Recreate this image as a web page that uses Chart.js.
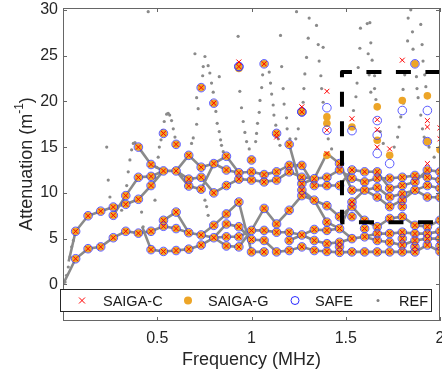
<!DOCTYPE html>
<html>
<head>
<meta charset="utf-8">
<script src="https://cdn.jsdelivr.net/npm/chart.js@4.4.1/dist/chart.umd.min.js"></script>
<style>
  html, body { margin: 0; padding: 0; background: #fff; }
  #wrap { width: 442px; height: 379px; }
</style>
</head>
<body>
<div id="wrap"><canvas id="chart" width="442" height="379"></canvas></div>
<script>
// frequencies (MHz) where the modal solvers were evaluated
const freqs = [0.067, 0.133, 0.2, 0.267, 0.333, 0.4, 0.467, 0.533, 0.6, 0.667,
  0.733, 0.8, 0.867, 0.933, 1.0, 1.067, 1.133, 1.2, 1.267, 1.333,
  1.4, 1.467, 1.533, 1.6, 1.667, 1.733, 1.8, 1.867, 1.933, 2.0];

// attenuation values (1/m) on which SAIGA-C, SAIGA-G and SAFE agree, one list per frequency
const commonAtt = [
  [5.8, 2.8],
  [7.5, 3.9],
  [8.0, 4.1],
  [8.45, 7.55, 5.1],
  [9.7, 8.75, 5.8],
  [15.0, 11.7, 9.3, 5.6],
  [13.1, 11.8, 10.8, 5.8, 3.8],
  [16.5, 12.4, 7.0, 6.35, 3.6],
  [15.3, 12.4, 7.9, 6.1, 3.7],
  [14.1, 11.5, 10.75, 5.65, 3.85],
  [21.5, 12.8, 11.7, 10.4, 5.4, 4.3],
  [19.8, 13.2, 10.0, 6.45, 5.1],
  [14.0, 12.5, 10.8, 7.7, 6.6, 5.2, 4.2],
  [23.8, 12.2, 11.5, 9.0, 6.3, 5.2, 4.1],
  [13.6, 12.3, 11.4, 5.9, 4.9, 3.55],
  [24.1, 12.0, 11.2, 8.3, 5.9, 4.8, 3.55],
  [16.5, 12.3, 11.4, 6.6, 5.7, 3.55],
  [15.3, 13.0, 12.3, 8.1, 5.7, 4.8, 3.7],
  [18.85, 13.0, 11.7, 11.0, 10.3, 9.7, 5.4, 4.1],
  [11.55, 10.8, 9.2, 6.0, 4.8, 3.7],
  [11.7, 10.8, 8.6, 6.8, 5.9, 4.45, 3.6],
  [13.2, 12.5, 10.8, 7.4, 6.1, 4.6, 4.1, 3.5],
  [12.5, 11.6, 10.3, 9.0, 8.5, 7.4, 5.0, 3.55],
  [12.3, 11.2, 10.3, 7.0, 6.1, 5.2, 3.55],
  [12.3, 11.6, 10.6, 9.55, 6.3, 5.55, 4.8, 3.55],
  [11.6, 10.5, 9.55, 8.5, 7.2, 5.55, 4.6, 3.55],
  [11.7, 10.8, 9.9, 9.2, 8.5, 7.4, 5.7, 5.0, 4.3, 3.55],
  [11.9, 11.2, 10.3, 6.45, 5.55, 4.8, 4.1, 3.55],
  [12.5, 11.7, 10.8, 9.55, 6.3, 5.55, 5.0, 4.3],
  [12.3, 11.4, 10.5, 9.5, 7.0, 5.8, 5.0, 4.2, 3.6]
];

// points where the three solvers give different answers [freq, att]
const saigaCOnly = [[0.933, 24.3], [1.133, 16.1], [1.267, 19.4], [1.4, 21.1], [1.4, 16.85], [1.4, 14.3],
  [1.533, 18.1], [1.667, 18.0], [1.667, 16.9], [1.667, 15.0], [1.733, 14.8], [1.8, 24.5],
  [1.933, 17.9], [1.933, 17.2], [1.933, 13.2], [2.0, 17.1], [2.0, 15.9]];
const saigaGOnly = [[0.933, 23.6], [1.267, 18.85], [1.4, 18.3], [1.4, 17.6], [1.4, 14.1], [1.533, 17.2],
  [1.667, 19.4], [1.667, 15.75], [1.733, 14.1], [1.8, 20.1], [1.867, 24.1], [1.933, 20.6],
  [1.933, 15.6], [2.0, 14.7]];
const safeOnly = [[0.933, 23.8], [1.267, 18.85], [1.4, 19.3], [1.4, 16.85], [1.533, 16.8], [1.667, 17.9],
  [1.667, 16.3], [1.667, 14.3], [1.733, 13.2], [1.8, 19.0], [1.867, 24.1], [1.933, 19.0], [1.933, 15.6]];

// reference solution: dense branches (they read as solid grey lines)
const refTracks = [
  [[0, 0], [0.067, 2.8], [0.133, 3.9], [0.2, 4.1], [0.267, 5.1], [0.333, 5.8], [0.4, 5.6], [0.467, 5.8],
   [0.533, 6.35], [0.6, 6.1], [0.667, 5.65], [0.733, 5.4], [0.8, 5.1], [0.867, 5.2], [0.933, 5.2],
   [1.0, 5.9], [1.067, 5.9], [1.133, 5.7], [1.2, 5.7], [1.267, 5.4], [1.333, 6.0], [1.4, 5.9],
   [1.467, 6.1], [1.533, 5.0], [1.6, 5.2], [1.667, 5.55], [1.733, 5.55], [1.8, 5.7], [1.867, 5.55],
   [1.933, 5.55], [2.0, 5.8]],
  [[0.03, 2.5], [0.067, 5.8], [0.133, 7.5], [0.2, 8.0], [0.267, 8.45], [0.333, 8.75], [0.4, 9.3],
   [0.467, 10.8], [0.533, 12.4], [0.6, 12.4], [0.667, 11.5], [0.733, 11.7], [0.8, 10.0], [0.867, 10.8],
   [0.933, 11.5], [1.0, 11.4], [1.067, 11.2], [1.133, 11.4], [1.2, 12.3], [1.267, 11.7], [1.333, 11.55],
   [1.4, 11.7], [1.467, 12.5], [1.533, 11.6], [1.6, 11.2], [1.667, 11.6], [1.733, 11.6], [1.8, 11.7],
   [1.867, 11.9], [1.933, 11.7], [2.0, 11.4]],
  [[0.267, 7.55], [0.333, 9.7], [0.4, 11.7], [0.467, 11.8], [0.533, 12.4], [0.6, 12.4], [0.667, 10.75],
   [0.733, 10.4], [0.8, 13.2], [0.867, 12.5], [0.933, 12.2], [1.0, 12.3], [1.067, 12.0], [1.133, 12.3],
   [1.2, 13.0], [1.267, 13.0], [1.333, 10.8], [1.4, 10.8], [1.467, 10.8], [1.533, 12.5], [1.6, 12.3],
   [1.667, 12.3], [1.733, 10.5], [1.8, 10.8], [1.867, 11.2], [1.933, 12.5], [2.0, 12.3]],
  [[0.4, 15.0], [0.467, 13.1], [0.533, 12.4], [0.6, 12.4], [0.667, 14.1], [0.733, 12.8], [0.8, 13.2],
   [0.867, 14.0], [0.933, 12.2]],
  [[0.42, 6.3], [0.467, 3.8], [0.533, 3.6], [0.6, 3.7], [0.667, 3.85], [0.733, 4.3], [0.8, 5.1],
   [0.867, 6.6], [0.933, 6.3], [1.0, 4.9], [1.067, 4.8], [1.133, 3.55], [1.2, 3.7], [1.267, 4.1],
   [1.333, 3.7], [1.4, 3.6], [1.467, 3.5], [1.533, 3.55], [1.6, 3.55], [1.667, 3.55], [1.733, 3.55],
   [1.8, 3.55], [1.867, 3.55], [1.933, 4.3], [2.0, 3.6]],
  [[0.533, 7.0], [0.6, 7.9], [0.667, 5.65], [0.733, 5.4], [0.8, 6.45], [0.867, 7.7], [0.933, 9.0],
   [1.0, 3.55], [1.067, 3.55]],
  [[0.8, 5.1], [0.867, 4.2], [0.933, 4.1], [1.0, 5.9], [1.067, 8.3], [1.133, 6.6], [1.2, 8.1],
   [1.267, 9.7], [1.333, 9.2], [1.4, 8.6], [1.467, 7.4], [1.533, 8.5], [1.6, 7.0], [1.667, 6.3],
   [1.733, 7.2], [1.8, 7.4], [1.867, 6.45], [1.933, 6.3], [2.0, 7.0]],
  [[1.2, 4.8], [1.267, 5.4], [1.333, 4.8], [1.4, 4.45], [1.467, 4.6], [1.533, 5.0], [1.6, 5.2],
   [1.667, 4.8], [1.733, 4.6], [1.8, 4.3], [1.867, 4.8], [1.933, 5.0], [2.0, 5.0]],
  [[1.2, 15.3], [1.267, 10.3], [1.333, 9.2], [1.4, 6.8], [1.467, 6.1], [1.533, 9.0], [1.6, 10.3],
   [1.667, 10.6], [1.733, 9.55], [1.8, 9.9], [1.867, 10.3], [1.933, 10.8], [2.0, 10.5]],
  [[1.267, 11.0], [1.333, 11.55], [1.4, 14.3], [1.467, 13.2], [1.533, 10.3], [1.6, 10.3], [1.667, 9.55],
   [1.733, 8.5], [1.8, 9.2], [1.867, 10.3], [1.933, 9.55], [2.0, 9.5]]
];

// reference solution: sparse points on the steep branches
const refDots = [
  [0.011, 0.25], [0.019, 1.0], [0.028, 1.9], [0.037, 3.0], [0.046, 4.1], [0.055, 4.8],
  [0.232, 15.0], [0.240, 11.4], [0.249, 9.55],
  [0.311, 8.1], [0.320, 8.8], [0.338, 10.8], [0.346, 12.3], [0.355, 13.6], [0.364, 14.7], [0.373, 15.4], [0.382, 15.5],
  [0.417, 7.9], [0.425, 6.3],
  [0.452, 29.8],
  [0.488, 9.2], [0.489, 11.7], [0.497, 12.8], [0.505, 13.9], [0.511, 15.0], [0.520, 15.8], [0.528, 16.8], [0.537, 17.8],
  [0.550, 18.6], [0.558, 18.7], [0.566, 18.5], [0.576, 17.9], [0.585, 17.0], [0.594, 16.1],
  [0.682, 15.4], [0.691, 16.0], [0.709, 17.5], [0.717, 19.2], [0.709, 20.4], [0.741, 22.8], [0.744, 23.8],
  [0.700, 25.2], [0.753, 24.9], [0.770, 23.9], [0.779, 23.1], [0.788, 22.0], [0.797, 21.0], [0.811, 18.9],
  [0.818, 17.6], [0.829, 16.7], [0.836, 15.8], [0.841, 15.2], [0.850, 14.5], [0.829, 22.7],
  [0.753, 9.2], [0.762, 8.5], [0.770, 7.55],
  [0.929, 27.1], [0.938, 21.1], [0.947, 19.3], [0.956, 17.8], [0.965, 16.6], [0.974, 15.6], [0.988, 14.8],
  [1.059, 22.9], [1.054, 21.5], [1.045, 20.1], [1.041, 18.8], [1.032, 17.6], [1.027, 16.5], [1.022, 15.6],
  [1.094, 23.2], [1.101, 22.0], [1.107, 20.8], [1.115, 19.6], [1.119, 18.5], [1.129, 17.4], [1.142, 15.9], [1.151, 15.2],
  [1.154, 27.2], [1.160, 23.8], [1.168, 21.4], [1.173, 19.7], [1.186, 18.2], [1.189, 17.0], [1.204, 15.9],
  [1.239, 29.8], [1.306, 29.1], [1.345, 28.3], [1.301, 26.9], [1.354, 26.2], [1.380, 25.9], [1.292, 24.8],
  [1.359, 24.4], [1.283, 23.0], [1.368, 22.8], [1.278, 21.4], [1.372, 21.4], [1.274, 19.9], [1.380, 19.9],
  [1.248, 17.0], [1.235, 15.9], [1.407, 15.9], [1.425, 14.8],
  [1.578, 28.0], [1.614, 28.5], [1.628, 28.6], [1.633, 26.4], [1.575, 25.8], [1.619, 25.2], [1.640, 24.5],
  [1.566, 23.7], [1.624, 22.9], [1.653, 22.8], [1.560, 22.0], [1.653, 21.4], [1.633, 21.0], [1.554, 20.5],
  [1.660, 20.2], [1.541, 19.0], [1.536, 17.2], [1.683, 16.7], [1.699, 15.4],
  [1.845, 30.0], [1.831, 29.1], [1.898, 28.4], [1.854, 27.6], [1.828, 26.6], [1.905, 26.2], [1.857, 25.7],
  [1.910, 24.4], [1.813, 22.9], [1.875, 22.7], [1.919, 22.9], [1.804, 21.3], [1.878, 21.4], [1.925, 21.6],
  [1.884, 20.4], [1.806, 19.8], [1.792, 18.3], [1.783, 17.2], [1.775, 16.1], [1.757, 15.0],
  [1.898, 18.5], [1.907, 17.0], [1.916, 16.1], [1.942, 15.0], [1.969, 13.9]
];

// dashed zoom box [freq, att]
const boxPath = [[2.06, 23.2], [1.48, 23.2], [1.48, 6.8], [2.06, 6.8]];

const xTicks = [0.5, 1, 1.5, 2];
const yTicks = [0, 5, 10, 15, 20, 25, 30];

const toXY = p => ({ x: p[0], y: p[1] });
const commonPts = [];
freqs.forEach((f, i) => commonAtt[i].forEach(a => commonPts.push({ x: f, y: a })));

// join the tracks into one line with gaps between them
const trackPts = [];
refTracks.forEach(t => { t.forEach(p => trackPts.push(toXY(p))); trackPts.push({ x: t[t.length - 1][0], y: null }); });

const FONT = '"Liberation Sans", Arial, Helvetica, sans-serif';
const orange = '#EDA527';

// axes box with inward ticks, axis titles and the legend box
const frame = {
  id: 'frame',
  afterDatasetsDraw(chart) {
    const { ctx, chartArea: a, scales: { x, y } } = chart;
    ctx.save();
    ctx.strokeStyle = '#666';
    ctx.lineWidth = 1;
    ctx.strokeRect(a.left + 0.5, a.top + 0.5, a.right - a.left - 1, a.bottom - a.top - 1);
    ctx.beginPath();
    xTicks.forEach(v => {
      const px = Math.round(x.getPixelForValue(v)) + 0.5;
      ctx.moveTo(px, a.bottom); ctx.lineTo(px, a.bottom - 4);
      ctx.moveTo(px, a.top); ctx.lineTo(px, a.top + 4);
    });
    yTicks.forEach(v => {
      const py = Math.round(y.getPixelForValue(v)) + 0.5;
      ctx.moveTo(a.left, py); ctx.lineTo(a.left + 4, py);
      ctx.moveTo(a.right, py); ctx.lineTo(a.right - 4, py);
    });
    ctx.stroke();

    // legend
    const lx = a.left - 3, ly = 289, lw = 371, lh = 22;
    ctx.fillStyle = '#fff';
    ctx.fillRect(lx, ly, lw, lh);
    ctx.strokeStyle = '#262626';
    ctx.strokeRect(lx + 0.5, ly + 0.5, lw, lh);
    const cy = ly + lh / 2 + 0.5;
    ctx.font = '14.5px ' + FONT;
    ctx.fillStyle = '#1a1a1a';
    ctx.textBaseline = 'middle';
    const items = [['SAIGA-C', 82, 103], ['SAIGA-G', 188, 208], ['SAFE', 295, 315], ['REF', 378, 399]];
    items.forEach(([t, mx, tx]) => ctx.fillText(t, tx, cy + 1));
    ctx.strokeStyle = '#ff0000'; ctx.lineWidth = 1;
    ctx.beginPath();
    ctx.moveTo(79, cy - 3); ctx.lineTo(85, cy + 3); ctx.moveTo(85, cy - 3); ctx.lineTo(79, cy + 3);
    ctx.stroke();
    ctx.fillStyle = orange;
    ctx.beginPath(); ctx.arc(188, cy, 4, 0, Math.PI * 2); ctx.fill();
    ctx.strokeStyle = '#2a2aff';
    ctx.beginPath(); ctx.arc(295, cy, 4, 0, Math.PI * 2); ctx.stroke();
    ctx.fillStyle = '#808080';
    ctx.beginPath(); ctx.arc(378, cy, 1.5, 0, Math.PI * 2); ctx.fill();

    // x title
    ctx.fillStyle = '#262626';
    ctx.font = '18px ' + FONT;
    ctx.textAlign = 'center';
    ctx.textBaseline = 'middle';
    ctx.fillText('Frequency (MHz)', (a.left + a.right) / 2, 360);

    // y title with superscript
    ctx.save();
    ctx.translate(27, 164);
    ctx.rotate(-Math.PI / 2);
    ctx.font = '18px ' + FONT;
    const main = 'Attenuation (m';
    const w1 = ctx.measureText(main).width;
    ctx.font = '12px ' + FONT;
    const w2 = ctx.measureText('-1').width;
    ctx.font = '18px ' + FONT;
    const w3 = ctx.measureText(')').width;
    const sx = -(w1 + w2 + w3) / 2;
    ctx.textAlign = 'left';
    ctx.fillText(main, sx, 0);
    ctx.font = '12px ' + FONT;
    ctx.fillText('-1', sx + w1, -7);
    ctx.font = '18px ' + FONT;
    ctx.fillText(')', sx + w1 + w2, 0);
    ctx.restore();
    ctx.restore();
  }
};

new Chart(document.getElementById('chart'), {
  type: 'scatter',
  data: {
    datasets: [
      {
        label: 'box', data: boxPath.map(toXY), showLine: true, pointRadius: 0,
        borderColor: '#000', borderWidth: 4, borderDash: [15, 14.5], borderDashOffset: 18.6,
        borderJoinStyle: 'round', borderCapStyle: 'butt'
      },
      {
        label: 'SAIGA-C', data: commonPts.concat(saigaCOnly.map(toXY)), pointStyle: 'crossRot',
        pointRadius: 3.5, borderColor: '#ff0000', borderWidth: 1, backgroundColor: '#ff0000'
      },
      {
        label: 'SAFE', data: commonPts.concat(safeOnly.map(toXY)), pointStyle: 'circle',
        pointRadius: 4.3, borderColor: '#3434ff', borderWidth: 0.8, backgroundColor: 'rgba(0,0,0,0)'
      },
      {
        label: 'SAIGA-G', data: commonPts.concat(saigaGOnly.map(toXY)), pointStyle: 'circle',
        pointRadius: 3.8, borderWidth: 0, backgroundColor: orange
      },
      {
        label: 'REF', data: refDots.map(toXY), pointStyle: 'circle',
        pointRadius: 1.6, borderWidth: 0, backgroundColor: '#8a8a8a'
      },
      {
        label: 'REF-lines', data: trackPts, showLine: true, spanGaps: false, pointRadius: 0,
        borderColor: '#8a8a8a', borderWidth: 2.6
      }
    ]
  },
  options: {
    responsive: false,
    animation: false,
    events: [],
    layout: { autoPadding: false, padding: { top: 8, right: 2, left: 0, bottom: 0 } },
    plugins: { legend: { display: false }, tooltip: { enabled: false } },
    scales: {
      x: {
        type: 'linear', min: 0, max: 2,
        afterBuildTicks: s => { s.ticks = xTicks.map(v => ({ value: v })); },
        afterFit: s => { s.height = 58; s.paddingLeft = 0; s.paddingRight = 0; },
        grid: { display: false, drawTicks: false },
        border: { display: false },
        ticks: { padding: 8, color: '#262626', font: { family: FONT, size: 16 }, callback: v => String(v) }
      },
      y: {
        type: 'linear', min: -4, max: 30.2,
        afterBuildTicks: s => { s.ticks = yTicks.map(v => ({ value: v })); },
        afterFit: s => { s.width = 63; s.paddingTop = 0; s.paddingBottom = 0; },
        grid: { display: false, drawTicks: false },
        border: { display: false },
        ticks: { padding: 5, color: '#262626', font: { family: FONT, size: 16 } }
      }
    }
  },
  plugins: [frame]
});
</script>
</body>
</html>
